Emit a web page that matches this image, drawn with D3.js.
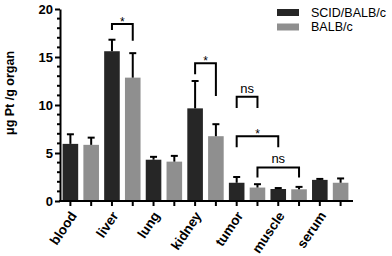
<!DOCTYPE html>
<html>
<head>
<meta charset="utf-8">
<script src="https://cdn.jsdelivr.net/npm/d3@7"></script>
<style>
 body { margin: 0; background: #fff; }
 svg text { font-family: "Liberation Sans", Arial, sans-serif; }
</style>
</head>
<body>
<svg id="chart" width="392" height="256"></svg>
<script>
// data
const tissues = ["blood", "liver", "lung", "kidney", "tumor", "muscle", "serum"];
const seriesNames = ["SCID/BALB/c", "BALB/c"];
const scidMean = [5.95, 15.6, 4.3, 9.65, 1.9, 1.25, 2.2];
const scidErr  = [1.0, 1.2, 0.3, 2.85, 0.6, 0.1, 0.1];
const balbMean = [5.85, 12.85, 4.1, 6.75, 1.4, 1.22, 1.9];
const balbErr  = [0.75, 2.55, 0.6, 1.25, 0.35, 0.25, 0.45];
const yTicks = [0, 5, 10, 15, 20];
// significance brackets: [tissue, series] to [tissue, series], heights in µg units
const brackets = [
 {a: ["liver", 0], b: ["liver", 1], top: 18.45, endA: 17.8, endB: 16.7, label: "*"},
 {a: ["kidney", 0], b: ["kidney", 1], top: 14.35, endA: 13.2, endB: 10.95, label: "*"},
 {a: ["tumor", 0], b: ["tumor", 1], top: 10.85, endA: 9.7, endB: 9.7, label: "ns"},
 {a: ["tumor", 0], b: ["muscle", 0], top: 6.75, endA: 5.6, endB: 5.6, label: "*"},
 {a: ["tumor", 1], b: ["muscle", 1], top: 3.5, endA: 2.45, endB: 2.45, label: "ns"}
];
const colors = ["#262626", "#8f8f8f"];

const svg = d3.select("#chart");

const x0 = d3.scaleBand().domain(tissues).range([60, 351]).padding(0);
const x1 = d3.scaleBand().domain([0, 1]).range([0, x0.bandwidth()])
 .paddingInner(0.25).paddingOuter(0.125);
const y = d3.scaleLinear().domain([0, 20]).range([201, 9]);

const rows = [];
tissues.forEach((t, i) => {
 rows.push({t, s: 0, v: scidMean[i], e: scidErr[i]});
 rows.push({t, s: 1, v: balbMean[i], e: balbErr[i]});
});
const cx = (t, s) => x0(t) + x1(s) + x1.bandwidth() / 2;

// bars
svg.append("g").selectAll("rect").data(rows).join("rect")
 .attr("x", d => x0(d.t) + x1(d.s))
 .attr("y", d => y(d.v))
 .attr("width", x1.bandwidth())
 .attr("height", d => y(0) - y(d.v))
 .attr("fill", d => colors[d.s]);

// error bars (upper only)
const eb = svg.append("g").attr("stroke", "#000").attr("stroke-width", 2);
eb.selectAll("line.v").data(rows).join("line").attr("class", "v")
 .attr("x1", d => cx(d.t, d.s)).attr("x2", d => cx(d.t, d.s))
 .attr("y1", d => y(d.v)).attr("y2", d => y(d.v + d.e));
eb.selectAll("line.c").data(rows).join("line").attr("class", "c")
 .attr("x1", d => cx(d.t, d.s) - 3.5).attr("x2", d => cx(d.t, d.s) + 3.5)
 .attr("y1", d => y(d.v + d.e)).attr("y2", d => y(d.v + d.e));

// y axis
const yAxis = svg.append("g").attr("transform", "translate(60,0)")
 .call(d3.axisLeft(y).tickValues(yTicks).tickSize(5).tickSizeOuter(0).tickPadding(2));
yAxis.select(".domain").attr("stroke-width", 2);
yAxis.selectAll(".tick line").attr("stroke-width", 2);
yAxis.selectAll("text").attr("font-size", 13).attr("font-weight", "bold").attr("fill", "#000");
const minor = d3.range(0, 21).filter(v => v % 5 !== 0);
yAxis.selectAll("line.minor").data(minor).join("line").attr("class", "minor")
 .attr("x1", -3).attr("x2", 0).attr("y1", d => y(d)).attr("y2", d => y(d))
 .attr("stroke", "#000").attr("stroke-width", 2);

// x axis
const xg = svg.append("g");
xg.append("line").attr("x1", 59).attr("x2", 353).attr("y1", y(0)).attr("y2", y(0))
 .attr("stroke", "#000").attr("stroke-width", 2);
xg.selectAll("line.t").data(rows).join("line").attr("class", "t")
 .attr("x1", d => cx(d.t, d.s)).attr("x2", d => cx(d.t, d.s))
 .attr("y1", y(0)).attr("y2", y(0) + 5)
 .attr("stroke", "#000").attr("stroke-width", 2);
xg.selectAll("text").data(tissues).join("text")
 .attr("transform", d => `translate(${cx(d, 0) + 3},${y(0) + 12}) rotate(-56)`)
 .attr("text-anchor", "end").attr("dy", "0.35em")
 .attr("font-size", 13.5).attr("font-weight", "bold").text(d => d);

// y label
svg.append("text")
 .attr("transform", "translate(14,93) rotate(-90)")
 .attr("text-anchor", "middle")
 .attr("font-size", 12.5).attr("font-weight", "bold")
 .text("μg Pt /g organ");

// brackets
const bg = svg.append("g");
brackets.forEach(b => {
 const xa = cx(b.a[0], b.a[1]), xb = cx(b.b[0], b.b[1]);
 bg.append("path")
  .attr("d", `M${xa},${y(b.endA)}V${y(b.top)}H${xb}V${y(b.endB)}`)
  .attr("fill", "none").attr("stroke", "#000").attr("stroke-width", 2);
 bg.append("text")
  .attr("x", (xa + xb) / 2)
  .attr("y", b.label === "*" ? y(b.top) + 2 : y(b.top) - 4)
  .attr("text-anchor", "middle")
  .attr("font-size", b.label === "*" ? 12 : 13)
  .text(b.label);
});

// legend
const lg = svg.append("g").attr("transform", "translate(277,9)");
seriesNames.forEach((n, i) => {
 lg.append("rect").attr("x", 0).attr("y", i * 14.5).attr("width", 22).attr("height", 7)
  .attr("fill", colors[i]);
 lg.append("text").attr("x", 34).attr("y", i * 14.5 + 3.5).attr("dy", "0.35em")
  .attr("font-size", 12.5).text(n);
});
</script>
</body>
</html>
